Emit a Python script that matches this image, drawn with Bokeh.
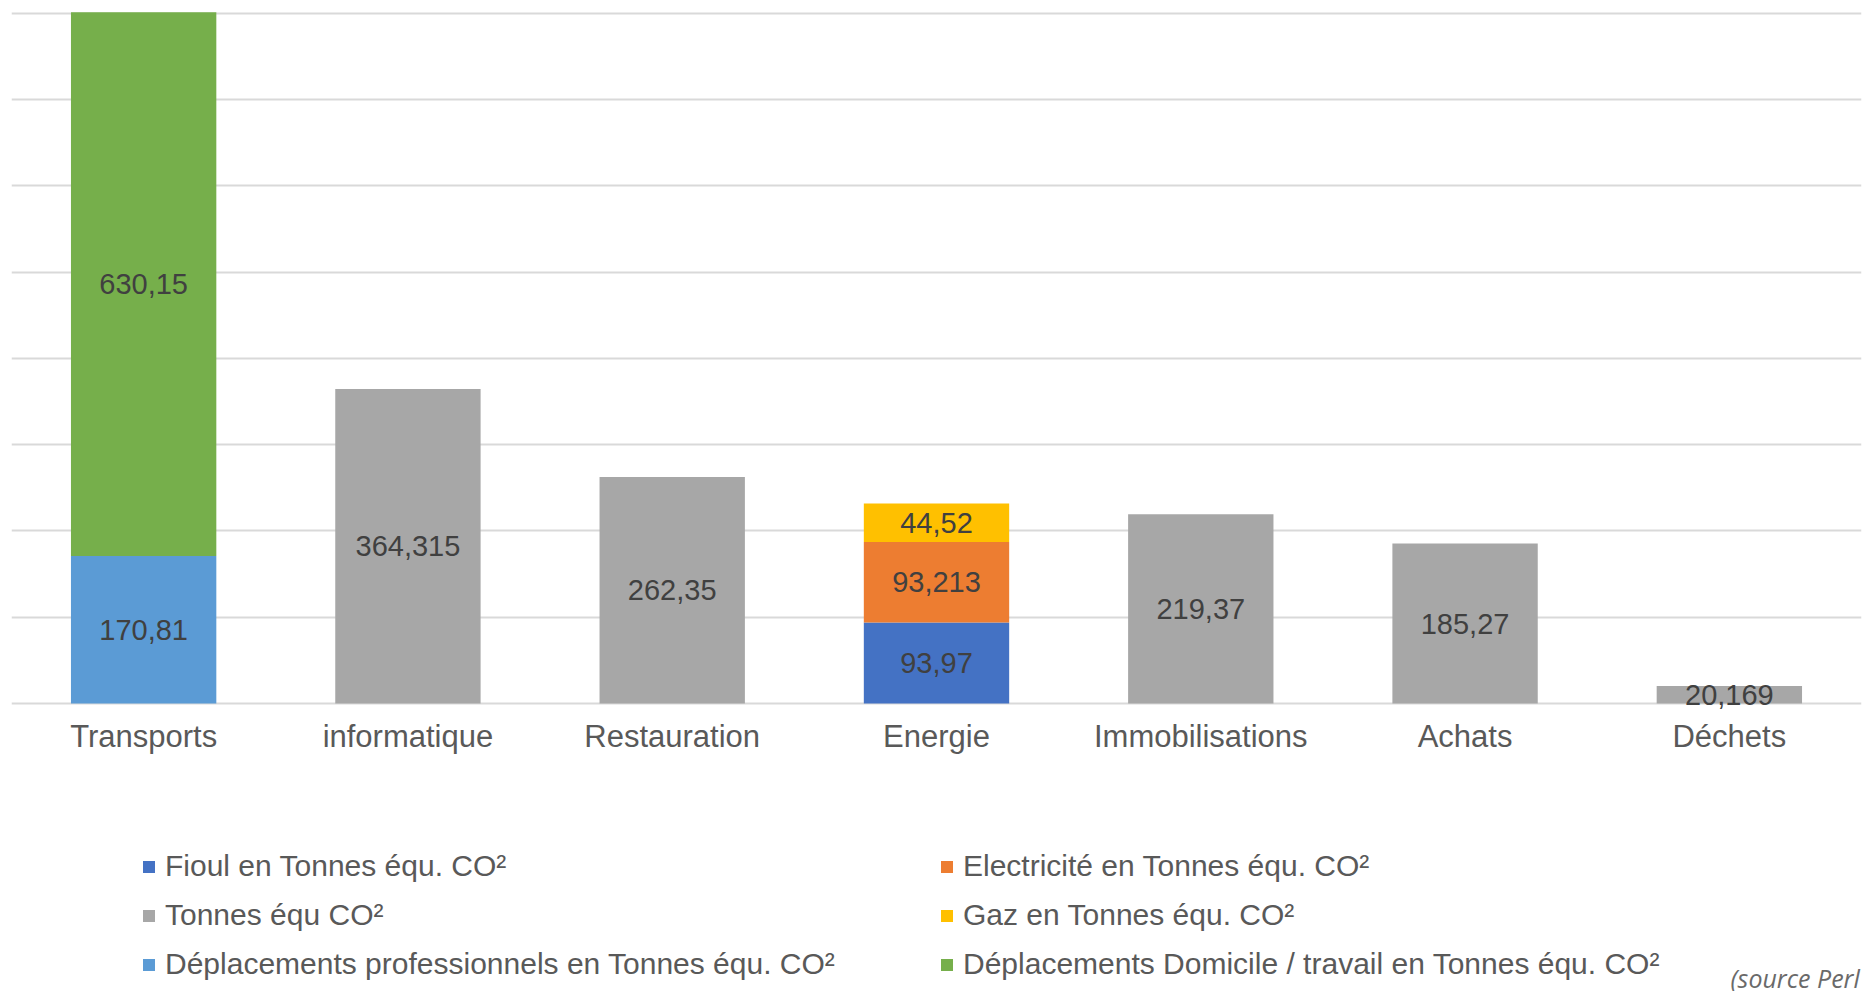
from bokeh.plotting import figure
from bokeh.models import (ColumnDataSource, FactorRange, Range1d, Legend, LegendItem,
                          Label, FixedTicker)
from bokeh.core.properties import value
from bokeh.embed import file_html
from bokeh.resources import INLINE

# ---------------- data ----------------
categories = ["Transports", "informatique", "Restauration", "Energie",
              "Immobilisations", "Achats", "Déchets"]
fioul = [0, 0, 0, 93.97, 0, 0, 0]
electricite = [0, 0, 0, 93.213, 0, 0, 0]
tonnes = [0, 364.315, 262.35, 0, 219.37, 185.27, 20.169]
gaz = [0, 0, 0, 44.52, 0, 0, 0]
depl_pro = [170.81, 0, 0, 0, 0, 0, 0]
depl_dom = [630.15, 0, 0, 0, 0, 0, 0]
grid_values = [0, 100, 200, 300, 400, 500, 600, 700, 800]

series_keys = ["fioul", "electricite", "tonnes", "gaz", "depl_pro", "depl_dom"]
series_vals = [fioul, electricite, tonnes, gaz, depl_pro, depl_dom]
series_names = ["Fioul en Tonnes équ. CO²", "Electricité en Tonnes équ. CO²",
                "Tonnes équ CO²", "Gaz en Tonnes équ. CO²",
                "Déplacements professionnels en Tonnes équ. CO²",
                "Déplacements Domicile / travail en Tonnes équ. CO²"]
series_colors = ["#4472C4", "#ED7D31", "#A7A7A7", "#FFC000", "#5B9BD5", "#76AF4B"]
source_text = "(source Perl"

# ---------------- figure ----------------
p = figure(x_range=FactorRange(*categories), y_range=Range1d(-333.8, 814.7),
           width=1864, height=991, output_backend="svg", toolbar_location=None,
           min_border_left=11, min_border_right=3, min_border_top=0,
           min_border_bottom=0)
p.outline_line_color = None
p.background_fill_color = "white"
p.border_fill_color = "white"

data = {"cat": categories}
for k, v in zip(series_keys, series_vals):
    data[k] = v
src = ColumnDataSource(data)

renderers = p.vbar_stack(series_keys, x="cat", width=0.55, source=src,
                         color=series_colors, line_color=None)

# data labels at segment centres
lx, ly, lt = [], [], []
base = [0.0] * len(categories)
for vals in series_vals:
    for i, v in enumerate(vals):
        if v > 0:
            lx.append(categories[i])
            ly.append(base[i] + v / 2)
            lt.append(str(v).replace(".", ","))
        base[i] += v
lsrc = ColumnDataSource(dict(x=lx, y=ly, t=lt))
p.text(x="x", y="y", text="t", source=lsrc, text_align="center",
       text_baseline="middle", text_font=value("Liberation Sans"),
       text_font_size="29px", text_color="#404040")

# axes / grid
p.yaxis.visible = False
p.ygrid.ticker = FixedTicker(ticks=grid_values)
p.ygrid.grid_line_color = "#d9d9d9"
p.ygrid.grid_line_width = 2
p.xgrid.grid_line_color = None
xa = p.xaxis[0]
xa.fixed_location = 0
xa.axis_line_color = None
xa.major_tick_line_color = None
xa.major_tick_out = 0
xa.major_tick_in = 0
xa.major_label_standoff = 16
xa.major_label_text_font = "Liberation Sans"
xa.major_label_text_font_size = "31px"
xa.major_label_text_color = "#595959"

# legends (two columns)
def make_legend(idxs, x):
    items = [LegendItem(label=series_names[i], renderers=[renderers[i]]) for i in idxs]
    lg = Legend(items=items, location=(x, 10), orientation="vertical",
                glyph_width=15, glyph_height=15, label_standoff=9,
                label_text_font="Liberation Sans", label_text_font_size="30px",
                label_text_color="#595959", label_height=34, spacing=15,
                padding=0, margin=0, border_line_color=None,
                background_fill_alpha=0)
    p.add_layout(lg, "center")

make_legend([0, 2, 4], 130)
make_legend([1, 3, 5], 928)

src_label = Label(x=1719, y=14, x_units="screen", y_units="screen",
                  text=source_text, text_font="Open Sans", text_font_style="italic",
                  text_font_size="25px", text_color="#6a6a6a",
                  text_baseline="alphabetic")
p.add_layout(src_label)

open("out.html", "w").write(file_html(p, INLINE))
